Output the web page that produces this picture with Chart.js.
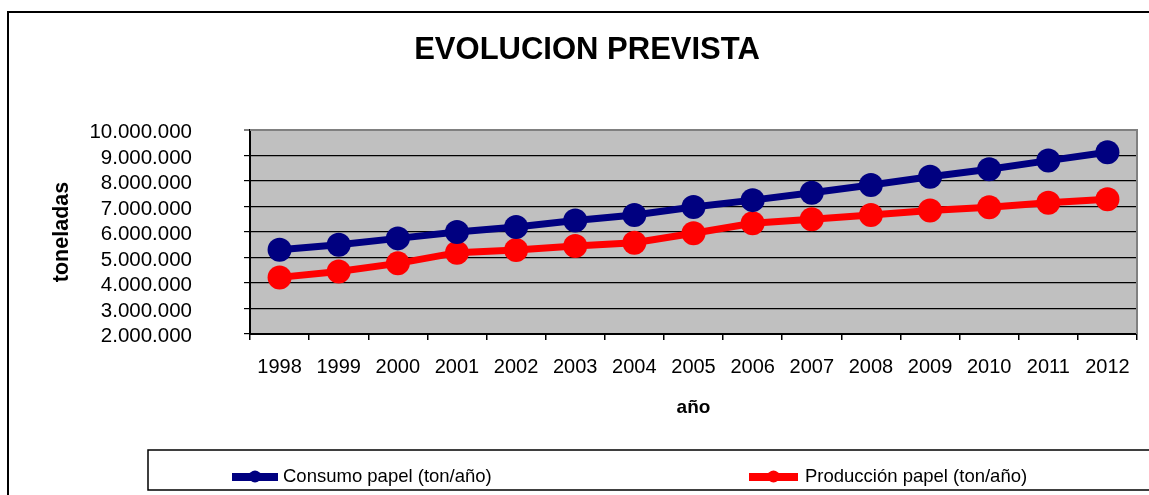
<!DOCTYPE html>
<html>
<head>
<meta charset="utf-8">
<script src="https://cdn.jsdelivr.net/npm/chart.js@4"></script>
<style>
  html, body { margin: 0; padding: 0; background: #fff; }
  #c { display: block; }
</style>
</head>
<body>
<canvas id="c" width="1149" height="495"></canvas>
<script>
// ---- data ----
const years = ['1998','1999','2000','2001','2002','2003','2004','2005','2006','2007','2008','2009','2010','2011','2012'];
const consumo = [5300000, 5500000, 5750000, 6000000, 6200000, 6450000, 6670000, 6980000, 7250000, 7540000, 7840000, 8170000, 8460000, 8800000, 9130000];
const produccion = [4220000, 4450000, 4770000, 5190000, 5290000, 5450000, 5580000, 5950000, 6340000, 6500000, 6670000, 6840000, 6970000, 7150000, 7280000];
const seriesNames = ['Consumo papel (ton/año)', 'Producción papel (ton/año)'];
const seriesColors = ['#000080', '#FF0000'];
const yMin = 2000000, yMax = 10000000, yStep = 1000000;
const titleText = 'EVOLUCION PREVISTA';
const yTitle = 'toneladas';
const xTitle = 'año';

const FONT = '"Liberation Sans", Arial, sans-serif';

function fmt(v) {
  return String(Math.round(v)).replace(/\B(?=(\d{3})+(?!\d))/g, '.');
}

const decor = {
  id: 'decor',
  beforeDraw(chart) {
    const {ctx, chartArea: a} = chart;
    ctx.save();
    ctx.fillStyle = '#fff';
    ctx.fillRect(0, 0, chart.width, chart.height);
    ctx.fillStyle = '#C0C0C0';
    ctx.fillRect(a.left, a.top, a.right - a.left, a.bottom - a.top);
    ctx.restore();
  },
  afterDraw(chart) {
    const {ctx, chartArea: a} = chart;
    ctx.save();
    // plot top & right border (gray)
    ctx.strokeStyle = '#808080';
    ctx.lineWidth = 2;
    ctx.beginPath();
    ctx.moveTo(a.left, a.top);
    ctx.lineTo(a.right, a.top);
    ctx.lineTo(a.right, a.bottom);
    ctx.stroke();
    // outer frame
    ctx.strokeStyle = '#000';
    ctx.lineWidth = 2;
    ctx.strokeRect(8, 12, 1300, 700);
    // chart title
    ctx.fillStyle = '#000';
    ctx.font = 'bold 31px ' + FONT;
    ctx.textAlign = 'center';
    ctx.textBaseline = 'alphabetic';
    ctx.fillText(titleText, 587, 59);
    // legend box
    ctx.lineWidth = 1.5;
    ctx.strokeRect(148, 450, 1100, 40);
    const items = [
      {x0: 232, x1: 278, tx: 283},
      {x0: 749, x1: 798, tx: 805}
    ];
    const cy = 477;
    chart.data.datasets.forEach((ds, i) => {
      const it = items[i];
      ctx.strokeStyle = ds.borderColor;
      ctx.lineWidth = 8;
      ctx.beginPath();
      ctx.moveTo(it.x0, cy);
      ctx.lineTo(it.x1, cy);
      ctx.stroke();
      ctx.fillStyle = ds.borderColor;
      ctx.beginPath();
      ctx.arc((it.x0 + it.x1) / 2, cy - 0.5, 6, 0, Math.PI * 2);
      ctx.fill();
      ctx.fillStyle = '#000';
      ctx.font = '18.5px ' + FONT;
      ctx.textBaseline = 'alphabetic';
      ctx.textAlign = 'left';
      ctx.fillText(ds.label, it.tx, 482);
    });
    ctx.restore();
  }
};

new Chart(document.getElementById('c'), {
  type: 'line',
  data: {
    labels: years,
    datasets: [
      {
        label: seriesNames[0],
        data: consumo,
        borderColor: seriesColors[0],
        backgroundColor: seriesColors[0],
        borderWidth: 7,
        pointRadius: 12,
        pointHoverRadius: 12,
        pointBorderWidth: 0,
        tension: 0
      },
      {
        label: seriesNames[1],
        data: produccion,
        borderColor: seriesColors[1],
        backgroundColor: seriesColors[1],
        borderWidth: 7,
        pointRadius: 12,
        pointHoverRadius: 12,
        pointBorderWidth: 0,
        tension: 0
      }
    ]
  },
  options: {
    responsive: false,
    animation: false,
    devicePixelRatio: 1,
    events: [],
    layout: { padding: { left: 0, right: 6, top: 130, bottom: 61 } },
    plugins: {
      legend: { display: false },
      tooltip: { enabled: false },
      title: { display: false }
    },
    scales: {
      x: {
        type: 'category',
        offset: true,
        grid: {
          display: true,
          drawOnChartArea: false,
          drawTicks: true,
          tickLength: 6,
          offset: true,
          color: '#000',
          lineWidth: 1.5
        },
        border: { display: true, color: '#000', width: 2 },
        ticks: {
          color: '#000',
          font: { family: FONT, size: 20 },
          padding: 15,
          maxRotation: 0,
          autoSkip: false
        },
        title: {
          display: true,
          text: xTitle,
          color: '#000',
          font: { family: FONT, size: 19, weight: 'bold', lineHeight: 1.2 },
          padding: { top: 0, bottom: 15 }
        },
        afterFit(scale) { scale.height = 100; }
      },
      y: {
        min: yMin,
        max: yMax,
        grid: {
          display: true,
          drawTicks: true,
          tickLength: 6,
          color: (c) => (c.tick && c.tick.value === yMax) ? '#808080' : '#000',
          lineWidth: (c) => (c.tick && c.tick.value === yMax) ? 2 : 1.2
        },
        border: { display: true, color: '#000', width: 2 },
        ticks: {
          stepSize: yStep,
          autoSkip: false,
          color: '#000',
          font: { family: FONT, size: 20.5, lineHeight: 1 },
          padding: 52,
          labelOffset: 2.5,
          callback: (v) => fmt(v)
        },
        title: {
          display: true,
          text: yTitle,
          color: '#000',
          font: { family: FONT, size: 21.5, weight: 'bold', lineHeight: 1.2 },
          padding: { top: 49, bottom: 0 }
        },
        afterFit(scale) { scale.width = 250; }
      }
    }
  },
  plugins: [decor]
});
</script>
</body>
</html>
